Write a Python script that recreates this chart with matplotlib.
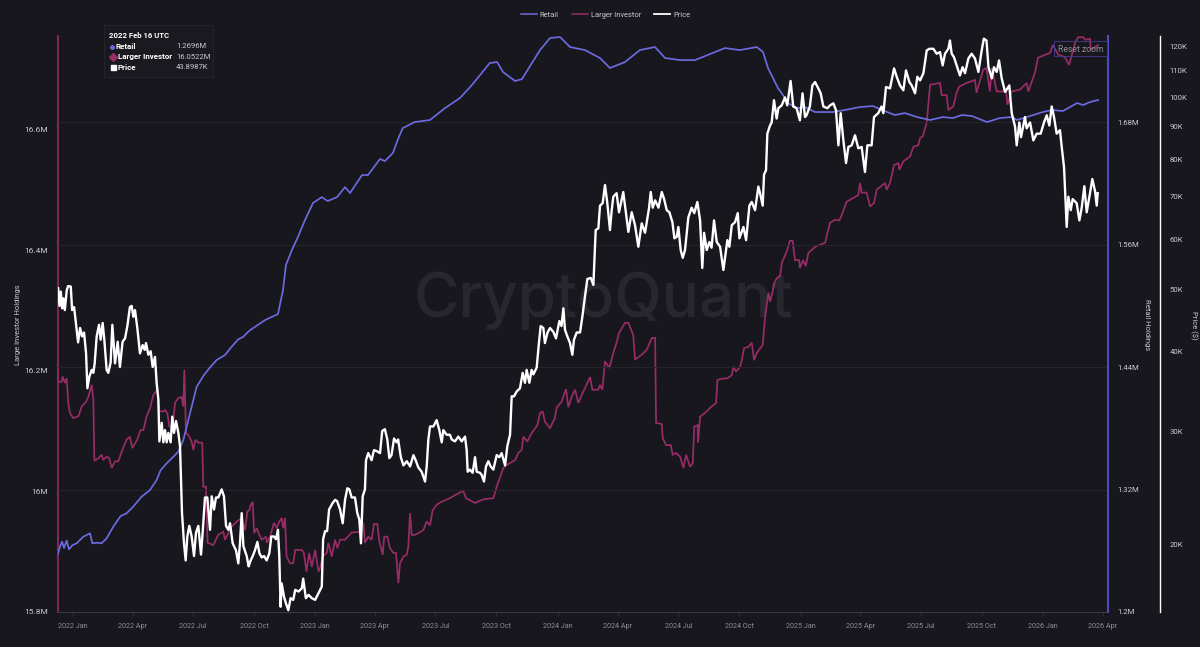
import matplotlib
matplotlib.use('Agg')
from matplotlib import pyplot as plt
from matplotlib.lines import Line2D
from matplotlib.patches import Rectangle
from matplotlib.ticker import NullLocator
import numpy as np
import pandas as pd

plt.rcParams['font.family'] = ['Roboto', 'DejaVu Sans']

BG = '#17171d'
RETAIL = '#6c6ae0'
LARGER = '#982c66'
TICK = '#c9c9cf'
XTICK = '#8d8d94'

# (days since 2021-12-09, value)
price_k = [
    (1, 50.3), (3, 47.2), (5, 49.7), (7, 46.8), (9, 48.5), (11, 46.5), (14, 50.0), (16, 50.7), (20, 50.6), (22, 46.5),
    (25, 47.0), (28, 44.1), (31, 41.4), (34, 43.6), (37, 42.3), (40, 42.9), (43, 39.8), (45, 35.1), (48, 36.6), (51.5, 37.5),
    (54, 37.1), (56, 38.4), (59, 42.3), (62.5, 44.1), (65, 41.8), (68, 44.4), (70.5, 41.8), (74, 37.5), (76.5, 37.1), (80, 38.5),
    (82.6, 44.1), (86.6, 38.4), (90.6, 41.5), (94, 37.9), (98, 41.5), (101.7, 42.0), (105.2, 43.9), (109, 47.0), (111.7, 47.2), (114.2, 45.4),
    (116.7, 46.5), (120.2, 43.6), (124.2, 39.8), (128.3, 41.0), (131.3, 40.3), (133.3, 41.3), (136.8, 39.6), (140.3, 40.1), (143.3, 37.9), (146.8, 39.3),
    (149.3, 35.8), (151.9, 33.7), (153.4, 29.0), (156.9, 31.0), (159.4, 28.9), (161.9, 30.2), (164.4, 28.9), (166.9, 29.9), (170.4, 28.9), (172.9, 31.7),
    (175.4, 29.9), (178.5, 31.2), (182, 29.9), (184.5, 28.5), (187.5, 22.4), (190.5, 20.1), (193, 18.9), (195.5, 20.6), (198.5, 21.4), (202, 20.6),
    (205.6, 19.2), (208.6, 20.9), (212.1, 21.4), (216.1, 19.3), (218.6, 20.9), (222.1, 23.7), (225.6, 23.7), (229.7, 21.1), (232.2, 23.8), (235.7, 22.7),
    (238.7, 23.7), (242.2, 23.7), (247.2, 24.4), (250.7, 23.8), (253.8, 21.4), (257.3, 21.1), (259.8, 21.6), (263.8, 20.1), (268.8, 19.6), (272.3, 18.7),
    (274.8, 20.1), (277.4, 22.4), (279.9, 19.9), (284.9, 19.2), (287.9, 18.5), (290, 18.8), (294, 19.2), (297.4, 19.6), (301, 20.2), (304, 19.4),
    (307.5, 19.1), (311, 19.2), (315, 18.9), (319, 19.4), (322, 20.6), (326, 20.6), (329, 20.4), (332, 21.1), (334, 19.2), (336, 16.0),
    (337.6, 17.4), (341, 16.6), (344, 16.2), (347.6, 15.8), (351, 16.5), (355, 16.4), (358, 17.0), (363, 16.9), (368, 17.1), (370, 17.7),
    (374, 16.5), (378, 16.7), (383, 16.5), (388, 16.4), (393, 16.8), (398, 17.2), (400, 20.4), (403, 21.0), (406, 21.0), (409, 22.7),
    (414, 23.2), (418, 23.5), (421, 23.4), (425.5, 22.7), (429.5, 21.6), (433, 23.5), (436.5, 24.5), (439.5, 24.4), (443, 23.7), (448, 23.7),
    (451.5, 22.4), (454.5, 21.9), (457, 20.1), (459.6, 23.8), (463, 24.4), (464.6, 27.1), (468, 27.8), (473, 27.1), (476.6, 28.1), (480.7, 28.0),
    (485.7, 27.8), (489, 30.1), (493, 30.3), (496.7, 29.2), (499.7, 27.3), (503, 27.6), (506.8, 29.3), (510.8, 28.9), (513, 29.2), (517, 27.4),
    (521, 26.6), (526, 27.0), (531, 26.5), (536, 27.6), (539.4, 27.1), (543.4, 26.4), (548.4, 26.0), (553.5, 25.1), (556, 26.5), (558.5, 29.2),
    (561, 30.6), (566, 30.6), (571, 31.3), (575, 30.2), (578.6, 28.9), (581, 30.2), (586, 29.7), (591, 29.7), (593.6, 29.2), (598.6, 29.0),
    (603.6, 29.5), (608.7, 29.0), (613.7, 29.5), (616.2, 28.1), (617.7, 26.0), (621.2, 26.2), (625.2, 25.9), (628.8, 27.4), (631.3, 26.0), (636.3, 25.9),
    (638.8, 25.7), (642.3, 25.1), (645.3, 26.5), (648.8, 27.0), (652.3, 26.5), (656.4, 26.2), (661.4, 27.6), (665.4, 27.4), (668.9, 27.8), (674, 26.6),
    (677.4, 28.5), (681.5, 29.7), (684, 34.1), (687.5, 34.1), (691.5, 34.7), (696.5, 35.1), (700.5, 37.1), (704, 35.8), (706.5, 37.5), (710.6, 35.8),
    (714, 37.5), (716.6, 36.9), (721.6, 37.8), (725, 41.3), (727.6, 43.9), (731.7, 43.6), (734, 41.3), (738, 42.9), (741.7, 43.6), (746.7, 43.0),
    (750.7, 42.0), (755.8, 44.7), (759, 43.9), (761.8, 46.8), (764.3, 43.3), (767.8, 42.3), (771.8, 41.3), (775.3, 39.6), (777.8, 41.8), (781.9, 42.9),
    (786.9, 42.9), (790.4, 45.4), (794.4, 48.9), (798, 52.0), (803, 52.2), (807, 50.9), (810.5, 62.0), (814.5, 62.4), (817, 67.7), (821, 68.3),
    (824.5, 72.9), (828, 68.3), (832, 62.0), (834.6, 66.6), (837, 69.9), (842, 70.8), (845.6, 66.1), (852, 71.1), (856, 66.1), (859.7, 61.6),
    (864.7, 66.1), (869.7, 63.1), (874.7, 58.4), (879.8, 63.5), (884.8, 61.4), (890.8, 67.1), (893.4, 71.1), (896.4, 67.2), (900, 69.0), (905, 67.2),
    (910, 71.1), (913.4, 69.4), (917.5, 66.6), (921.5, 66.1), (926, 63.8), (929, 60.2), (932.5, 60.5), (935, 62.7), (938.5, 57.7), (941.6, 56.1),
    (945, 57.7), (950, 64.9), (955, 67.2), (959, 65.9), (963.6, 68.6), (967.7, 64.2), (971, 54.1), (973.7, 61.4), (977.7, 57.7), (981.7, 59.4),
    (985, 58.2), (988.7, 64.2), (992.8, 59.4), (997.8, 58.4), (1002.8, 53.7), (1008.8, 59.8), (1011.8, 58.4), (1015.4, 63.1), (1020.4, 63.8), (1024.4, 65.9),
    (1026.9, 60.2), (1033, 62.7), (1037, 59.8), (1042, 67.7), (1045.5, 68.6), (1050.5, 66.6), (1055.5, 72.5), (1058, 70.8), (1062, 67.7), (1064, 75.7),
    (1067, 76.9), (1069, 87.7), (1073, 90.3), (1075.5, 91.3), (1079, 98.9), (1083, 92.6), (1085.6, 96.1), (1090.6, 97.1), (1095.6, 99.9), (1099, 97.1),
    (1104, 106), (1108, 96.7), (1113, 96.1), (1118, 92.0), (1122, 101.4), (1125.7, 93.1), (1128, 93.7), (1133, 96.7), (1136.8, 104.3), (1140.8, 105.6),
    (1145.8, 103.2), (1149.3, 101.4), (1153.3, 96.7), (1159.4, 96.1), (1163.4, 97.1), (1168.4, 97.8), (1172.4, 95.4), (1176, 84.1), (1179.4, 94.4), (1183.5, 85.6),
    (1187.5, 78.9), (1191, 83.6), (1196, 84.1), (1201, 87.2), (1206, 83.2), (1211, 83.6), (1216, 76.4), (1219.6, 84.1), (1226, 84.1), (1229.6, 93.1),
    (1236, 94.4), (1241, 96.7), (1243.7, 94.4), (1247.7, 103.7), (1253.7, 103.2), (1259.8, 110.9), (1263.8, 107.6), (1268.8, 104.3), (1273.8, 102.5), (1277.8, 110.1),
    (1282.9, 105.6), (1286.4, 104.3), (1291.4, 101.4), (1294.9, 107.6), (1299, 106.2), (1304, 109), (1309, 118.3), (1313, 119), (1319, 119), (1324, 116.9),
    (1329, 117.6), (1333, 112.1), (1336.5, 116.9), (1341.6, 119), (1344, 122.6), (1346.6, 116.9), (1350, 115.5), (1354, 112.1), (1359, 108.1), (1363, 111.4),
    (1366.7, 109), (1371.7, 114.9), (1376.7, 116.9), (1381.7, 114.9), (1386.8, 109.5), (1391.8, 118.3), (1395, 123.4), (1399, 122.6), (1402, 111.4), (1407, 107),
    (1410.3, 111.4), (1414.4, 109.5), (1417.9, 114.1), (1421.9, 107), (1427, 101.9), (1433.4, 104.3), (1437, 94.4), (1442, 90.0), (1444.5, 84.1), (1448.5, 91.3),
    (1451, 86.6), (1457, 93.1), (1459.5, 89.4), (1464.6, 91.3), (1469.6, 85.6), (1474.6, 87.7), (1480.6, 87.7), (1485.6, 91.3), (1489.7, 93.7), (1493.7, 90.3),
    (1497.2, 96.7), (1500.7, 93.1), (1504.7, 87.7), (1509.7, 88.8), (1512.3, 83.6), (1515.8, 77.7), (1519.8, 62.7), (1522.3, 69.9), (1525.8, 66.6), (1528.8, 69.3),
    (1534.8, 68.3), (1538.9, 64.2), (1542.4, 67.2), (1546.4, 72.6), (1549.9, 66.1), (1554.9, 70.8), (1558.4, 74.5), (1562.5, 71.3), (1565, 67.7), (1566.5, 70.8),
]

retail_m = [
    (0, 1.2558), (3.8, 1.264), (6.8, 1.2689), (9.8, 1.2627), (13.8, 1.2699), (17.3, 1.2614), (22.8, 1.2656), (28.9, 1.2673), (38.9, 1.2738), (49, 1.2771),
    (52.5, 1.2673), (59, 1.2679), (66.5, 1.2673), (74, 1.2722), (84, 1.2836), (95, 1.2940), (104, 1.2967), (114, 1.3032), (126.7, 1.3130), (139.3, 1.3195),
    (149.3, 1.3293), (155.4, 1.3391), (164.4, 1.3457), (174.4, 1.3521), (182, 1.3570), (189.5, 1.3685), (199.5, 1.3946), (209.6, 1.4207), (219.6, 1.4312), (229.7, 1.4397),
    (239.7, 1.4469), (252.3, 1.4518), (262.3, 1.4599), (272.3, 1.4671), (279.9, 1.4697), (288.9, 1.4756), (312.5, 1.4860), (332, 1.4919), (339.6, 1.5154), (344, 1.5399),
    (353, 1.5546), (362, 1.5673), (372.7, 1.5840), (384.8, 1.6007), (398, 1.6065), (407, 1.6026), (421, 1.6065), (433, 1.6163), (440.5, 1.6104), (458.6, 1.6281),
    (467.6, 1.6281), (485.7, 1.6438), (493, 1.6418), (505, 1.6496), (514, 1.6653), (520, 1.6741), (538, 1.6800), (561, 1.6820), (583.6, 1.6937), (606, 1.7035),
    (624, 1.7162), (651, 1.7378), (662, 1.7388), (671, 1.7290), (689, 1.7202), (699.5, 1.7221), (711.6, 1.7349), (726.7, 1.7505), (741.7, 1.7623), (756.8, 1.7633),
    (771.8, 1.7535), (794.4, 1.7505), (817, 1.7427), (832, 1.7329), (854.6, 1.7388), (877, 1.7505), (899.8, 1.7535), (915, 1.7427), (937.5, 1.7407), (960, 1.7407),
    (982.6, 1.7466), (1005, 1.7525), (1027.8, 1.7505), (1053, 1.7535), (1062.5, 1.7486), (1070, 1.7329), (1077.5, 1.7231), (1085, 1.7133), (1092.6, 1.7064), (1100, 1.6986),
    (1113.7, 1.6937), (1125.7, 1.6947), (1140.8, 1.6898), (1167.9, 1.6898), (1186, 1.6918), (1208.6, 1.6947), (1228, 1.6957), (1241.7, 1.6918), (1261, 1.6869), (1276, 1.6888),
    (1294.4, 1.6849), (1314, 1.6820), (1333.5, 1.6849), (1348.6, 1.6839), (1362, 1.6869), (1377, 1.6859), (1399.8, 1.6800), (1419, 1.6839), (1437.5, 1.6849), (1445, 1.6820),
    (1464.6, 1.6859), (1484, 1.6898), (1497.8, 1.6918), (1514, 1.6908), (1535.5, 1.6986), (1544.6, 1.6967), (1555, 1.6996), (1567, 1.7016),
]

larger_m = [
    (0, 16.202), (1.3, 16.182), (6.3, 16.182), (7.8, 16.191), (11.3, 16.180), (13.8, 16.188), (16.3, 16.146), (18.8, 16.130), (23.8, 16.122), (31.4, 16.125),
    (36.4, 16.141), (42.9, 16.149), (46.4, 16.157), (51.5, 16.177), (54, 16.152), (55.5, 16.051), (61.5, 16.055), (66.5, 16.061), (69, 16.052), (74, 16.058),
    (78, 16.055), (81.6, 16.039), (86.6, 16.050), (91.6, 16.050), (96.6, 16.066), (104, 16.086), (109, 16.091), (112.7, 16.072), (120, 16.086), (125, 16.102),
    (129.3, 16.102), (134, 16.124), (139.3, 16.138), (144.3, 16.160), (150.3, 16.169), (153.4, 16.133), (159.4, 16.133), (162, 16.135), (165.4, 16.130), (168.4, 16.108),
    (173.4, 16.108), (177, 16.147), (182, 16.155), (187, 16.157), (189.5, 16.141), (191, 16.202), (193.5, 16.097), (197, 16.094), (202, 16.083), (204.6, 16.069),
    (207.6, 16.086), (212, 16.081), (218, 16.081), (219.6, 16.008), (223.6, 16.008), (226, 15.915), (234.7, 15.911), (242, 15.928), (249.7, 15.933), (252.3, 15.920),
    (262.3, 15.942), (270, 15.950), (277.4, 15.956), (282.4, 15.936), (286, 15.967), (289, 15.969), (290, 15.975), (294, 15.983), (296, 15.931), (300, 15.939),
    (304, 15.928), (307.5, 15.920), (314, 15.925), (315, 15.915), (320, 15.925), (326, 15.948), (330, 15.939), (334, 15.950), (337.6, 15.956), (340, 15.939),
    (342.6, 15.956), (345, 15.892), (350, 15.881), (355, 15.881), (358, 15.903), (368, 15.903), (371, 15.898), (375, 15.867), (379, 15.898), (383, 15.875),
    (388, 15.903), (393, 15.867), (396, 15.875), (399, 15.892), (405.4, 15.898), (408, 15.915), (413, 15.892), (418, 15.920), (421.4, 15.906), (425.5, 15.920),
    (433, 15.920), (443, 15.932), (454.6, 15.933), (460.6, 15.948), (463, 15.915), (468, 15.925), (473, 15.920), (476.6, 15.946), (481.7, 15.946), (484.7, 15.917),
    (489.7, 15.895), (492, 15.925), (496.7, 15.925), (500.7, 15.906), (505.8, 15.898), (509.8, 15.898), (513.3, 15.848), (515.8, 15.881), (520.8, 15.892), (525.8, 15.895),
    (528.3, 15.908), (530.9, 15.964), (533.4, 15.928), (538.4, 15.928), (543.4, 15.931), (551, 15.936), (556, 15.950), (561, 15.944), (565, 15.969), (571, 15.978),
    (578.6, 15.983), (591, 15.989), (598.6, 15.994), (611, 16.001), (615.2, 15.989), (628.8, 15.981), (641.3, 15.987), (656.4, 15.989), (661.4, 16.008), (671.4, 16.039),
    (676.4, 16.044), (689, 16.052), (694, 16.064), (699, 16.069), (701.5, 16.091), (707.6, 16.083), (714, 16.097), (722.6, 16.110), (726.6, 16.130), (730.7, 16.133),
    (734, 16.116), (741.7, 16.105), (749, 16.122), (751.7, 16.139), (759, 16.149), (765.8, 16.170), (769.3, 16.140), (774.3, 16.157), (779.4, 16.169), (784.4, 16.147),
    (789.4, 16.160), (802, 16.190), (805.5, 16.169), (814.5, 16.169), (817, 16.177), (820.5, 16.169), (824.5, 16.216), (831, 16.205), (837, 16.230), (842, 16.247),
    (845.6, 16.263), (854.6, 16.280), (859.7, 16.280), (867, 16.260), (869.7, 16.219), (879.8, 16.227), (887.3, 16.235), (895, 16.255), (900, 16.255), (901.4, 16.114),
    (910, 16.112), (911.4, 16.089), (916.5, 16.077), (923.5, 16.077), (926.5, 16.061), (931.5, 16.064), (937.5, 16.058), (942.6, 16.039), (946.6, 16.061), (952.6, 16.041),
    (956.6, 16.047), (959, 16.108), (964, 16.110), (964.6, 16.081), (967.7, 16.124), (977.7, 16.133), (982.7, 16.139), (991.8, 16.147), (993.8, 16.185), (1000, 16.187),
    (1008.8, 16.188), (1015.4, 16.193), (1017.9, 16.207), (1022, 16.199), (1028, 16.207), (1030.4, 16.218), (1034, 16.238), (1040.4, 16.240), (1045.5, 16.247), (1049, 16.218),
    (1053, 16.230), (1062, 16.243), (1065.6, 16.290), (1070.6, 16.330), (1073, 16.315), (1076.6, 16.330), (1079.6, 16.346), (1083, 16.354), (1088, 16.357), (1090.7, 16.379),
    (1098, 16.398), (1103, 16.416), (1107, 16.416), (1110.7, 16.384), (1117, 16.384), (1118, 16.371), (1123, 16.384), (1126.8, 16.374), (1130.8, 16.396), (1141, 16.406),
    (1156, 16.413), (1159.4, 16.429), (1163.4, 16.446), (1171, 16.451), (1177.5, 16.450), (1181, 16.459), (1188.5, 16.481), (1206, 16.492), (1208.6, 16.512), (1211, 16.496),
    (1218.6, 16.496), (1223.6, 16.473), (1229.6, 16.479), (1233.7, 16.501), (1246, 16.512), (1248.7, 16.501), (1253.7, 16.512), (1259.8, 16.542), (1266.3, 16.545), (1267.8, 16.534),
    (1273.8, 16.548), (1283.9, 16.556), (1288.9, 16.572), (1296.4, 16.575), (1299, 16.587), (1303, 16.589), (1309, 16.612), (1314, 16.675), (1329, 16.678), (1331.5, 16.658),
    (1339, 16.658), (1341.6, 16.633), (1349, 16.639), (1354, 16.662), (1358, 16.672), (1369, 16.678), (1381.7, 16.683), (1384, 16.662), (1394, 16.700), (1399, 16.703),
    (1404, 16.664), (1407, 16.703), (1414.4, 16.664), (1424.4, 16.664), (1428.4, 16.667), (1430.4, 16.642), (1437, 16.664), (1449.5, 16.667), (1459.5, 16.678), (1462, 16.664),
    (1472, 16.695), (1476.6, 16.720), (1494.7, 16.728), (1499, 16.741), (1507, 16.725), (1517, 16.721), (1523.5, 16.708), (1532.5, 16.745), (1537, 16.754), (1544.6, 16.754),
    (1547.6, 16.750), (1555, 16.751), (1556, 16.733), (1567, 16.741),
]

start = pd.Timestamp('2021-12-09')
end = pd.Timestamp('2026-04-09')
x_ticks = pd.date_range('2022-01-01', '2026-04-01', freq='QS')

larger_ticks = [15.8, 16.0, 16.2, 16.4, 16.6]
larger_labels = ['15.8M', '16M', '16.2M', '16.4M', '16.6M']
retail_ticks = [1.2, 1.32, 1.44, 1.56, 1.68]
retail_labels = ['1.2M', '1.32M', '1.44M', '1.56M', '1.68M']
price_ticks = [20, 30, 40, 50, 60, 70, 80, 90, 100, 110, 120]


def to_dates(points):
    days = [p[0] for p in points]
    return start + pd.to_timedelta(days, unit='D')


W, H = 1200, 647
L_PX, R_PX, T_PX, B_PX = 57.5, 1108, 36, 612

fig = plt.figure(figsize=(W / 100, H / 100), dpi=100, facecolor=BG)
ax = fig.add_axes([L_PX / W, 1 - B_PX / H, (R_PX - L_PX) / W, (B_PX - T_PX) / H])
ax.set_facecolor(BG)
ax_r = ax.twinx()
ax_p = ax.twinx()

ax.set_xlim(start, end)
ax.set_ylim(15.8, 16.756)
ax_r.set_ylim(1.2, 1.7643)
ax_p.set_yscale('log')
ax_p.set_ylim(15.7, 124.6)

# watermark lives in the bottom axes so the lines draw over it
ax.text(603 / W, 1 - 301 / H, 'CryptoQuant', color='#27282f', fontsize=44.5, family='Inter', fontweight='medium',
        ha='center', va='center', zorder=0.5, transform=fig.transFigure)

ax_r.plot(to_dates(retail_m), [p[1] for p in retail_m], color=RETAIL, lw=1.25, solid_joinstyle='round')
ax.plot(to_dates(larger_m), [p[1] for p in larger_m], color=LARGER, lw=1.25, solid_joinstyle='miter')
ax_p.plot(to_dates(price_k), [p[1] for p in price_k], color='white', lw=1.7, solid_joinstyle='round')

# gridlines sit on the retail axis
for v in retail_ticks[1:]:
    ax_r.axhline(v, color='#25262e', lw=0.7, zorder=0)

ax.set_xticks(x_ticks)
ax.set_xticklabels([d.strftime('%Y %b') for d in x_ticks])
ax.tick_params(axis='x', colors=XTICK, labelsize=5.2, length=3, width=0.5, pad=5, color='#3a3b43')

ax.set_yticks(larger_ticks)
ax.set_yticklabels(larger_labels)
ax.tick_params(axis='y', colors=TICK, labelsize=6, length=0, pad=7)
ax_r.set_yticks(retail_ticks)
ax_r.set_yticklabels(retail_labels)
ax_r.tick_params(axis='y', colors=TICK, labelsize=5.6, length=0, pad=7)
ax_p.set_yticks(price_ticks)
ax_p.set_yticklabels([f'{v}K' for v in price_ticks])
ax_p.yaxis.set_minor_locator(NullLocator())
ax_p.tick_params(axis='y', which='major', colors=TICK, labelsize=5.6, length=0, pad=7)

for a in (ax, ax_r, ax_p):
    for s in a.spines.values():
        s.set_visible(False)
ax.spines['left'].set_visible(True)
ax.spines['left'].set_color(LARGER)
ax.spines['left'].set_linewidth(1.2)
ax.spines['bottom'].set_visible(True)
ax.spines['bottom'].set_color('#3a3b43')
ax.spines['bottom'].set_linewidth(0.7)
ax_r.spines['right'].set_visible(True)
ax_r.spines['right'].set_color('#4f4cb8')
ax_r.spines['right'].set_linewidth(1.5)
ax_p.spines['right'].set_visible(True)
ax_p.spines['right'].set_position(('outward', 52 * 0.72))
ax_p.spines['right'].set_color('white')
ax_p.spines['right'].set_linewidth(1.0)

fig.text(18 / W, 1 - 325 / H, 'Large Investor Holdings', color=TICK, fontsize=5.5, rotation=90, ha='center', va='center')
fig.text(1147 / W, 1 - 325 / H, 'Retail Holdings', color=TICK, fontsize=5.5, rotation=270, ha='center', va='center')
fig.text(1194 / W, 1 - 325 / H, 'Price ($)', color=TICK, fontsize=5.5, rotation=270, ha='center', va='center')

# legend strip
handles = [Line2D([], [], color=RETAIL, lw=1.1), Line2D([], [], color=LARGER, lw=1.1), Line2D([], [], color='white', lw=1.3)]
fig.legend(handles, ['Retail', 'Larger Investor', 'Price'], loc='center', bbox_to_anchor=(605.5 / W, 1 - 15 / H), ncol=3,
           frameon=False, fontsize=5.4, labelcolor=TICK, handlelength=2.13, columnspacing=1.74, handletextpad=0.4)

# tooltip box
fig.add_artist(Rectangle((104 / W, 1 - 77 / H), 109 / W, 52 / H, transform=fig.transFigure,
                         facecolor='#19191f', edgecolor='#25262e', lw=0.6))
fig.text(109 / W, 1 - 36 / H, '2022 Feb 16 UTC', color='white', fontsize=5.6, fontweight='bold', va='center')
rows = [('Retail', '1.2696M', 115, 176), ('Larger Investor', '16.0522M', 118, 176), ('Price', '43.8987K', 117, 176)]
for i, (name, val, tx, vx) in enumerate(rows):
    y = 1 - (46.5 + i * 10.3) / H
    fig.text(tx / W, y, name, color='white', fontsize=5.8, fontweight='bold', va='center')
    fig.text(vx / W, y, val, color=TICK, fontsize=5.5, va='center')
fig.add_artist(Line2D([111.5 / W], [1 - 46.5 / H], marker='o', ms=2.5, color=RETAIL, transform=fig.transFigure))
fig.add_artist(Line2D([113 / W], [1 - 56.8 / H], marker='D', ms=4.5, color=LARGER, transform=fig.transFigure))
fig.add_artist(Line2D([112.5 / W], [1 - 67.1 / H], marker='s', ms=3.6, color='white', transform=fig.transFigure))

# reset zoom button
fig.add_artist(Rectangle((1054 / W, 1 - 56 / H), 53 / W, 15 / H, transform=fig.transFigure,
                         facecolor='none', edgecolor='#3a3880', lw=0.7))
fig.text(1081 / W, 1 - 49 / H, 'Reset zoom', color='#8d8d94', fontsize=6.2, ha='center', va='center')

fig.savefig('out.png', dpi=100, facecolor=BG)
